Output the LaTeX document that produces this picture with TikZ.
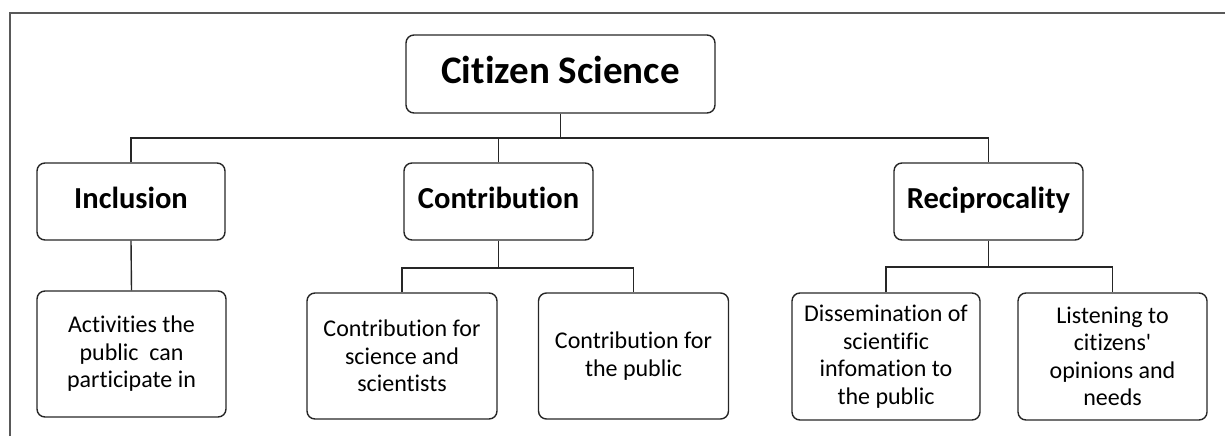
\documentclass[tikz,border=0pt]{standalone}
\usepackage{fontspec}
\setmainfont[Ligatures=NoCommon]{Carlito}
\begin{document}
\begin{tikzpicture}[x=1pt,y=-1pt,
  box/.style={draw=black!85, line width=1.4pt, rounded corners=8pt, inner sep=0pt, align=center},
  head/.style={box, font=\fontsize{30.5}{34}\selectfont\bfseries, text height=20pt, text depth=6pt},
  leaf/.style={box, font=\fontsize{24}{27.5}\selectfont},
  link/.style={draw=black!85, line width=1.4pt}]
\useasboundingbox (0,0) rectangle (1225,436);
\draw[black!65, line width=2pt] (10,436) -- (10,13) -- (1225,13);
\node[box, font=\fontsize{39}{43}\selectfont\bfseries, text height=26pt, text depth=8pt, minimum width=309pt, minimum height=78pt] (cs) at (560.5,74) {Citizen Science};
\node[head, minimum width=188pt, minimum height=77pt] (inc) at (131,201.5) {Inclusion};
\node[head, minimum width=189pt, minimum height=77pt] (con) at (498.5,201.5) {Contribution};
\node[head, minimum width=189pt, minimum height=77pt] (rec) at (988.5,201.5) {Reciprocality};
\node[leaf, minimum width=189pt, minimum height=126pt] (act) at (131.5,354) {Activities the\\public\ \ can\\participate in};
\node[leaf, minimum width=190pt, minimum height=126pt] (sci) at (402,356) {Contribution for\\science and\\scientists};
\node[leaf, minimum width=190pt, minimum height=126pt] (pub) at (633.5,356) {Contribution for\\the public};
\node[leaf, minimum width=188pt, minimum height=127pt] (dis) at (886,356.5) {Dissemination of\\scientific\\infomation to\\the public};
\node[leaf, minimum width=189pt, minimum height=127pt] (lis) at (1112.5,356.5) {Listening to\\citizens\textquotesingle\\opinions and\\needs};
\coordinate (bus) at (0,138);
\coordinate (cbus) at (0,268);
\coordinate (rbus) at (0,267);
\draw[link] (cs.south) -- (cs.south |- bus);
\draw[link] (inc.north) -- (inc.north |- bus) -- (rec.north |- bus) -- (rec.north);
\draw[link] (con.north) -- (con.north |- bus);
\draw[link] (inc.south) -- (act.north);
\draw[link] (con.south) -- (con.south |- cbus);
\draw[link] (sci.north) -- (sci.north |- cbus) -- (pub.north |- cbus) -- (pub.north);
\draw[link] (rec.south) -- (rec.south |- rbus);
\draw[link] (dis.north) -- (dis.north |- rbus) -- (lis.north |- rbus) -- (lis.north);
\end{tikzpicture}
\end{document}
